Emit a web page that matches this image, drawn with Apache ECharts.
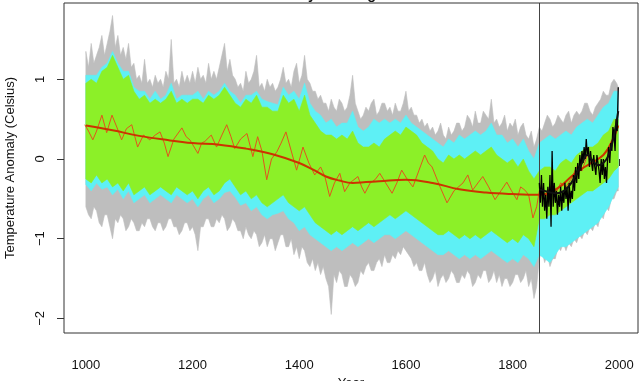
<!DOCTYPE html>
<html>
<head>
<meta charset="utf-8">
<script src="https://cdn.jsdelivr.net/npm/echarts@6/dist/echarts.min.js"></script>
<style>html,body{margin:0;padding:0;background:#fff;}#c{width:640px;height:381px;}</style>
</head>
<body>
<div id="c"></div>
<script>
// ---- data ----
const grayYears = [1000,1005,1010,1015,1020,1025,1030,1035,1040,1045,1050,1055,1060,1065,1070,1075,1080,1085,1090,1095,
1100,1105,1110,1115,1120,1125,1130,1135,1140,1145,1150,1155,1160,1165,1170,1175,1180,1185,1190,1195,
1200,1205,1210,1215,1220,1225,1230,1235,1240,1245,1250,1255,1260,1265,1270,1275,1280,1285,1290,1295,
1300,1305,1310,1315,1320,1325,1330,1335,1340,1345,1350,1355,1360,1365,1370,1375,1380,1385,1390,1395,
1400,1405,1410,1415,1420,1425,1430,1435,1440,1445,1450,1455,1460,1465,1470,1475,1480,1485,1490,1495,
1500,1505,1510,1515,1520,1525,1530,1535,1540,1545,1550,1555,1560,1565,1570,1575,1580,1585,1590,1595,
1600,1605,1610,1615,1620,1625,1630,1635,1640,1645,1650,1655,1660,1665,1670,1675,1680,1685,1690,1695,
1700,1705,1710,1715,1720,1725,1730,1735,1740,1745,1750,1755,1760,1765,1770,1775,1780,1785,1790,1795,
1800,1805,1810,1815,1820,1825,1830,1835,1840,1845,1850,1855,1860,1865,1870,1875,1880,1885,1890,1895,
1900,1905,1910,1915,1920,1925,1930,1935,1940,1945,1950,1955,1960,1965,1970,1975,1980,1985,1990,1995,1998];

const grayTop = [1.35,1.15,1.45,1.2,1.3,1.4,1.55,1.3,1.45,1.6,1.8,1.4,1.55,1.3,1.4,1.25,1.45,1.15,1.2,1.0,
1.05,0.95,1.25,0.95,1.0,0.9,1.05,0.95,1.0,0.9,1.1,1.0,1.5,0.95,1.0,0.9,1.1,0.95,1.05,0.95,
1.1,0.95,1.15,1.0,1.05,0.95,1.2,1.0,1.1,1.0,1.15,1.3,1.45,1.1,1.25,1.05,1.0,0.9,0.95,0.85,
1.1,0.95,1.0,1.1,1.3,0.9,0.95,0.85,1.0,0.9,0.95,0.85,0.9,1.0,1.15,0.95,1.0,0.9,1.1,1.2,
0.95,1.05,1.3,1.0,0.95,0.85,0.85,0.75,0.8,0.7,0.7,0.6,0.75,0.65,0.6,0.75,0.7,0.6,0.65,0.8,
1.05,0.7,0.6,0.5,0.55,0.65,0.6,0.7,0.75,0.55,0.6,0.7,0.7,0.6,0.65,0.55,0.7,0.6,0.6,0.7,
0.85,0.6,0.65,0.55,0.55,0.45,0.5,0.4,0.45,0.35,0.4,0.3,0.35,0.45,0.3,0.25,0.4,0.3,0.35,0.45,
0.45,0.35,0.4,0.55,0.5,0.4,0.6,0.45,0.45,0.6,0.55,0.5,0.75,0.45,0.5,0.4,0.45,0.55,0.35,0.45,
0.4,0.5,0.3,0.4,0.45,0.3,0.25,0.35,0.15,0.25,0.4,0.35,0.45,0.55,0.5,0.4,0.45,0.55,0.5,0.45,
0.55,0.6,0.45,0.55,0.6,0.55,0.6,0.7,0.7,0.6,0.55,0.65,0.7,0.75,0.85,0.8,0.8,0.95,1.0,0.95,0.9];

const grayBot = [-0.6,-0.7,-0.75,-0.6,-0.65,-0.8,-0.85,-0.7,-0.7,-0.85,-1.0,-0.75,-0.8,-0.7,-0.75,-0.9,-0.85,-0.75,-0.8,-0.9,
-0.9,-0.8,-0.85,-0.75,-0.75,-0.85,-0.9,-0.8,-0.8,-0.9,-0.85,-0.75,-0.75,-0.85,-0.85,-0.95,-0.9,-0.8,-0.8,-0.9,
-0.85,-0.95,-1.15,-0.85,-0.85,-0.75,-0.75,-0.85,-0.85,-0.75,-0.8,-0.7,-0.75,-0.9,-0.85,-0.75,-0.8,-0.9,-0.9,-1.0,
-0.85,-0.95,-1.0,-0.9,-0.95,-1.1,-1.05,-0.95,-1.1,-1.0,-1.0,-1.15,-1.05,-0.95,-0.95,-1.1,-1.1,-1.0,-1.2,-1.1,
-1.25,-1.1,-1.15,-1.3,-1.35,-1.25,-1.4,-1.3,-1.45,-1.35,-1.5,-1.6,-1.95,-1.45,-1.55,-1.4,-1.45,-1.6,-1.6,-1.45,
-1.5,-1.6,-1.55,-1.4,-1.45,-1.35,-1.3,-1.4,-1.4,-1.3,-1.25,-1.35,-1.2,-1.3,-1.3,-1.2,-1.25,-1.15,-1.2,-1.1,
-1.15,-1.2,-1.25,-1.35,-1.3,-1.4,-1.4,-1.3,-1.45,-1.55,-1.5,-1.4,-1.6,-1.5,-1.45,-1.55,-1.5,-1.4,-1.45,-1.55,
-1.55,-1.45,-1.5,-1.4,-1.45,-1.6,-1.55,-1.45,-1.5,-1.4,-1.4,-1.55,-1.5,-1.4,-1.55,-1.45,-1.6,-1.5,-1.5,-1.6,
-1.55,-1.45,-1.45,-1.55,-1.5,-1.4,-1.6,-1.5,-1.75,-1.6,-1.25,-1.15,-1.3,-1.2,-1.35,-1.25,-1.25,-1.1,-1.15,-1.05,
-1.15,-1.05,-1.1,-1.0,-1.05,-0.95,-1.0,-0.9,-0.95,-0.85,-0.9,-0.8,-0.85,-0.7,-0.75,-0.6,-0.65,-0.5,-0.5,-0.4,-0.4];

const bandYears = [1000,1010,1020,1030,1040,1050,1060,1070,1080,1090,
1100,1110,1120,1130,1140,1150,1160,1170,1180,1190,
1200,1210,1220,1230,1240,1250,1260,1270,1280,1290,
1300,1310,1320,1330,1340,1350,1360,1370,1380,1390,
1400,1410,1420,1430,1440,1450,1460,1470,1480,1490,
1500,1510,1520,1530,1540,1550,1560,1570,1580,1590,
1600,1610,1620,1630,1640,1650,1660,1670,1680,1690,
1700,1710,1720,1730,1740,1750,1760,1770,1780,1790,
1800,1810,1820,1830,1840,1850,1860,1870,1880,1890,
1900,1910,1920,1930,1940,1950,1960,1970,1980,1990,1998];

const cyanTop = [1.05,1.05,1.05,1.15,1.2,1.35,1.2,1.1,1.1,0.9,
0.85,0.85,0.75,0.85,0.75,0.8,0.95,0.75,0.8,0.8,
0.8,0.85,0.75,0.85,0.8,0.85,0.95,0.85,0.8,0.7,
0.8,0.8,0.85,0.75,0.72,0.7,0.68,0.9,0.8,0.85,
0.75,0.95,0.7,0.6,0.55,0.45,0.5,0.4,0.45,0.45,
0.6,0.4,0.35,0.4,0.5,0.45,0.5,0.45,0.5,0.45,
0.55,0.45,0.4,0.35,0.3,0.25,0.2,0.15,0.25,0.2,
0.3,0.25,0.3,0.35,0.3,0.35,0.45,0.3,0.3,0.2,
0.25,0.15,0.25,0.1,0.0,0.2,0.25,0.3,0.25,0.3,
0.35,0.3,0.4,0.45,0.5,0.45,0.55,0.65,0.7,0.85,0.85];

const cyanBot = [-0.32,-0.4,-0.3,-0.38,-0.35,-0.45,-0.38,-0.5,-0.4,-0.55,
-0.5,-0.45,-0.55,-0.5,-0.45,-0.5,-0.55,-0.45,-0.5,-0.55,
-0.5,-0.6,-0.5,-0.45,-0.55,-0.5,-0.42,-0.4,-0.48,-0.58,
-0.55,-0.65,-0.6,-0.7,-0.75,-0.7,-0.68,-0.65,-0.75,-0.8,
-0.9,-0.85,-0.95,-1.0,-1.05,-1.1,-1.15,-1.1,-1.15,-1.1,
-1.05,-1.1,-1.05,-1.0,-1.05,-1.0,-0.95,-0.95,-1.0,-0.95,
-0.9,-0.95,-1.0,-1.05,-1.1,-1.15,-1.2,-1.2,-1.15,-1.2,
-1.25,-1.2,-1.25,-1.2,-1.25,-1.2,-1.15,-1.2,-1.25,-1.3,
-1.25,-1.3,-1.2,-1.25,-1.35,-1.2,-1.25,-1.3,-1.2,-1.1,
-1.1,-1.05,-1.0,-0.95,-0.9,-0.85,-0.8,-0.7,-0.6,-0.45,-0.35];

const greenTop = [0.95,1.0,0.95,1.1,1.15,1.3,1.15,1.0,1.05,0.85,
0.75,0.8,0.7,0.75,0.7,0.75,0.85,0.7,0.75,0.7,
0.75,0.75,0.7,0.8,0.75,0.8,0.9,0.8,0.7,0.65,
0.75,0.7,0.8,0.65,0.65,0.6,0.6,0.8,0.7,0.75,
0.6,0.8,0.55,0.45,0.35,0.3,0.3,0.25,0.3,0.25,
0.35,0.2,0.15,0.15,0.2,0.15,0.25,0.3,0.35,0.3,
0.4,0.35,0.3,0.2,0.15,0.1,0.0,-0.05,0.05,0.0,
0.05,0.0,0.05,0.1,0.05,0.1,0.15,0.05,0.0,-0.05,
0.0,-0.1,0.0,-0.15,-0.25,-0.15,-0.1,-0.1,-0.15,-0.05,
0.0,-0.05,0.05,0.1,0.15,0.15,0.2,0.3,0.35,0.5,0.5];

const greenBot = [-0.25,-0.3,-0.2,-0.3,-0.25,-0.35,-0.3,-0.4,-0.3,-0.45,
-0.4,-0.35,-0.45,-0.4,-0.35,-0.4,-0.45,-0.35,-0.4,-0.45,
-0.4,-0.5,-0.4,-0.35,-0.45,-0.4,-0.3,-0.25,-0.35,-0.45,
-0.4,-0.5,-0.45,-0.55,-0.6,-0.55,-0.5,-0.45,-0.55,-0.6,
-0.65,-0.6,-0.7,-0.8,-0.85,-0.9,-0.95,-0.9,-0.95,-0.9,
-0.85,-0.9,-0.85,-0.8,-0.85,-0.8,-0.75,-0.7,-0.75,-0.7,
-0.65,-0.7,-0.75,-0.8,-0.85,-0.9,-0.95,-0.95,-0.9,-0.95,
-1.0,-0.95,-1.0,-0.95,-1.0,-0.95,-0.9,-0.95,-1.0,-1.05,
-1.0,-1.05,-0.95,-1.0,-1.1,-0.75,-0.75,-0.7,-0.7,-0.65,
-0.6,-0.55,-0.5,-0.45,-0.4,-0.4,-0.35,-0.3,-0.25,-0.15,-0.1];

// thin red backcast
const redYears = [998,1005,1013,1020,1030,1039,1049,1058,1067,1076,1086,1097,1108,1120,1130,1139,1147,1154,1165,1180,
1188,1195,1210,1217,1223,1235,1245,1255,1264,1272,1279,1290,1302,1313,1322,1330,1339,1348,1358,1366,
1375,1385,1395,1407,1418,1429,1440,1448,1457,1466,1476,1485,1495,1510,1517,1523,1533,1542,1551,1562,
1574,1583,1592,1602,1613,1624,1635,1642,1649,1664,1677,1690,1707,1716,1725,1735,1744,1755,1767,1778,
1789,1798,1808,1815,1823,1830,1838,1845,1850,1860,1870,1880,1890,1900,1910,1920,1930,1940,1950,1960,
1970,1980,1990,1998];
const redVals = [0.43,0.35,0.24,0.35,0.55,0.33,0.55,0.4,0.24,0.38,0.43,0.15,0.3,0.24,0.3,0.34,0.2,0.03,0.25,0.39,
0.28,0.24,0.07,0.2,0.22,0.3,0.15,0.3,0.43,0.28,0.13,0.25,0.32,0.03,0.28,0.1,-0.26,0.0,0.09,0.2,
0.34,0.1,-0.14,0.15,-0.05,-0.2,-0.1,-0.22,-0.47,-0.3,-0.18,-0.41,-0.3,-0.22,-0.35,-0.43,-0.3,-0.26,-0.18,-0.3,
-0.43,-0.3,-0.14,-0.25,-0.35,-0.15,0.05,-0.05,-0.1,-0.35,-0.55,-0.4,-0.3,-0.2,-0.39,-0.3,-0.22,-0.35,-0.51,-0.4,
-0.29,-0.4,-0.51,-0.35,-0.39,-0.45,-0.74,-0.6,-0.4,-0.5,-0.35,-0.45,-0.3,-0.35,-0.25,-0.1,-0.15,0.05,-0.05,0.0,
0.05,0.15,0.3,0.4];

// thick smoothed red
const redSmoothYears = [1000,1050,1100,1150,1200,1250,1300,1350,1400,1425,1450,1475,1500,1525,1550,1600,1650,1700,1750,1800,1850,1870,1890,1910,1930,1950,1970,1985,1998];
const redSmoothVals  = [0.42,0.36,0.29,0.24,0.2,0.18,0.13,0.06,-0.05,-0.13,-0.22,-0.27,-0.3,-0.29,-0.28,-0.26,-0.3,-0.38,-0.42,-0.44,-0.45,-0.42,-0.34,-0.22,-0.12,-0.04,0.05,0.2,0.42];

// thin black instrumental record
const blackYears = [1850,1852,1854,1856,1858,1860,1862,1864,1866,1868,1870,1872,1874,1876,1878,1880,1882,1884,1886,1888,
1890,1892,1894,1896,1898,1900,1902,1904,1906,1908,1910,1912,1914,1916,1918,1920,1922,1924,1926,1928,
1930,1932,1934,1936,1938,1940,1942,1944,1946,1948,1950,1952,1954,1956,1958,1960,1962,1964,1966,1968,
1970,1972,1974,1976,1978,1980,1982,1984,1986,1988,1990,1992,1994,1996,1998];
const blackVals = [-0.3,-0.55,-0.2,-0.6,-0.3,-0.65,-0.45,-0.75,-0.35,-0.6,-0.2,-0.85,0.1,-0.6,-0.3,-0.55,-0.4,-0.7,-0.45,-0.6,
-0.35,-0.65,-0.4,-0.55,-0.3,-0.5,-0.35,-0.65,-0.3,-0.55,-0.4,-0.5,-0.2,-0.4,-0.1,-0.3,-0.05,-0.25,0.05,-0.15,
0.1,-0.05,0.15,0.0,0.25,0.05,0.15,-0.1,0.1,-0.05,-0.15,0.05,-0.1,-0.2,0.05,-0.05,-0.15,-0.3,0.0,-0.2,
0.0,-0.25,-0.1,-0.3,0.0,0.15,-0.05,0.2,0.1,0.4,0.3,0.1,0.5,0.35,0.9];

// thick smoothed black
const blackSmoothYears = [1850,1860,1870,1880,1890,1900,1910,1920,1930,1940,1950,1960,1970,1980,1990,1998];
const blackSmoothVals  = [-0.38,-0.4,-0.42,-0.43,-0.42,-0.38,-0.3,-0.18,-0.05,0.05,-0.02,-0.08,-0.05,0.05,0.3,0.6];

const xTicks = [1000,1200,1400,1600,1800,2000];
const yTicks = [-2,-1,0,1];
const splitYear = 1850;

// ---- chart ----
const FONT = 'Liberation Sans, Arial, Helvetica, sans-serif';
function pairs(xs, ys){ return xs.map((x,i)=>[x, ys[i]]); }
function band(xs, top, bot, color, z){
  return {
    type:'custom', z:z, silent:true, animation:false,
    data:[[xs[0], top[0]]],
    renderItem:function(params, api){
      const pts = [];
      for (let i=0;i<xs.length;i++) pts.push(api.coord([xs[i], top[i]]));
      for (let i=xs.length-1;i>=0;i--) pts.push(api.coord([xs[i], bot[i]]));
      return {type:'polygon', shape:{points:pts}, style:{fill:color, stroke:color, lineWidth:0.6}};
    }
  };
}
function line(xs, ys, color, w, z, smooth){
  return {type:'line', data:pairs(xs, ys), showSymbol:false, symbol:'none', smooth:smooth||false,
    lineStyle:{color:color, width:w}, z:z, silent:true, animation:false};
}

const chart = echarts.init(document.getElementById('c'), null, {renderer:'canvas'});
chart.setOption({
  animation:false,
  backgroundColor:'#ffffff',
  textStyle:{fontFamily:FONT},
  grid:{left:64, top:3, width:574, height:330, outerBoundsMode:'none', containLabel:false,
    show:true, borderColor:'#333', borderWidth:1, backgroundColor:'transparent', z:10},
  graphic:[{type:'text', left:232, top:-12, z:100,
    style:{text:'Backcast by Training Data', font:'bold 14.4px '+FONT, fill:'#111'}}],
  xAxis:{type:'value', min:959, max:2035,
    name:'Year', nameLocation:'middle', nameGap:43, nameTextStyle:{fontSize:13, color:'#111', fontFamily:FONT},
    axisLine:{show:false},
    axisTick:{show:true, customValues:xTicks, length:7, lineStyle:{color:'#333'}},
    axisLabel:{customValues:xTicks, fontSize:13, color:'#111', margin:26, fontFamily:FONT,
      formatter:function(v){ return String(v); }},
    splitLine:{show:false}},
  yAxis:{type:'value', min:-2.183, max:1.957,
    name:'Temperature Anomaly (Celsius)', nameLocation:'middle', nameGap:47, nameRotate:90,
    nameTextStyle:{fontSize:13, color:'#111', fontFamily:FONT},
    axisLine:{show:false},
    axisTick:{show:true, customValues:yTicks, length:7, lineStyle:{color:'#333'}},
    axisLabel:{customValues:yTicks, fontSize:13, color:'#111', margin:17, rotate:90, fontFamily:FONT,
      formatter:function(v){ return v<0 ? '\u2212'+Math.abs(v) : String(v); }},
    splitLine:{show:false}},
  series:[
    band(grayYears, grayTop, grayBot, '#bebebe', 1),
    band(bandYears, cyanTop, cyanBot, '#5ef0f5', 2),
    band(bandYears, greenTop, greenBot, '#8cf028', 3),
    line(redYears, redVals, '#e2541c', 1, 4),
    line(redSmoothYears, redSmoothVals, '#cc3300', 2, 5, 0.4),
    line(blackYears, blackVals, '#000000', 1.3, 6),
    Object.assign(line(blackSmoothYears, blackSmoothVals, '#111111', 2, 7, 0.4), {
      markLine:{silent:true, symbol:'none', label:{show:false}, animation:false,
        lineStyle:{color:'#444', width:1, type:'solid'}, data:[{xAxis:splitYear}]}
    })
  ]
});
</script>
</body>
</html>
